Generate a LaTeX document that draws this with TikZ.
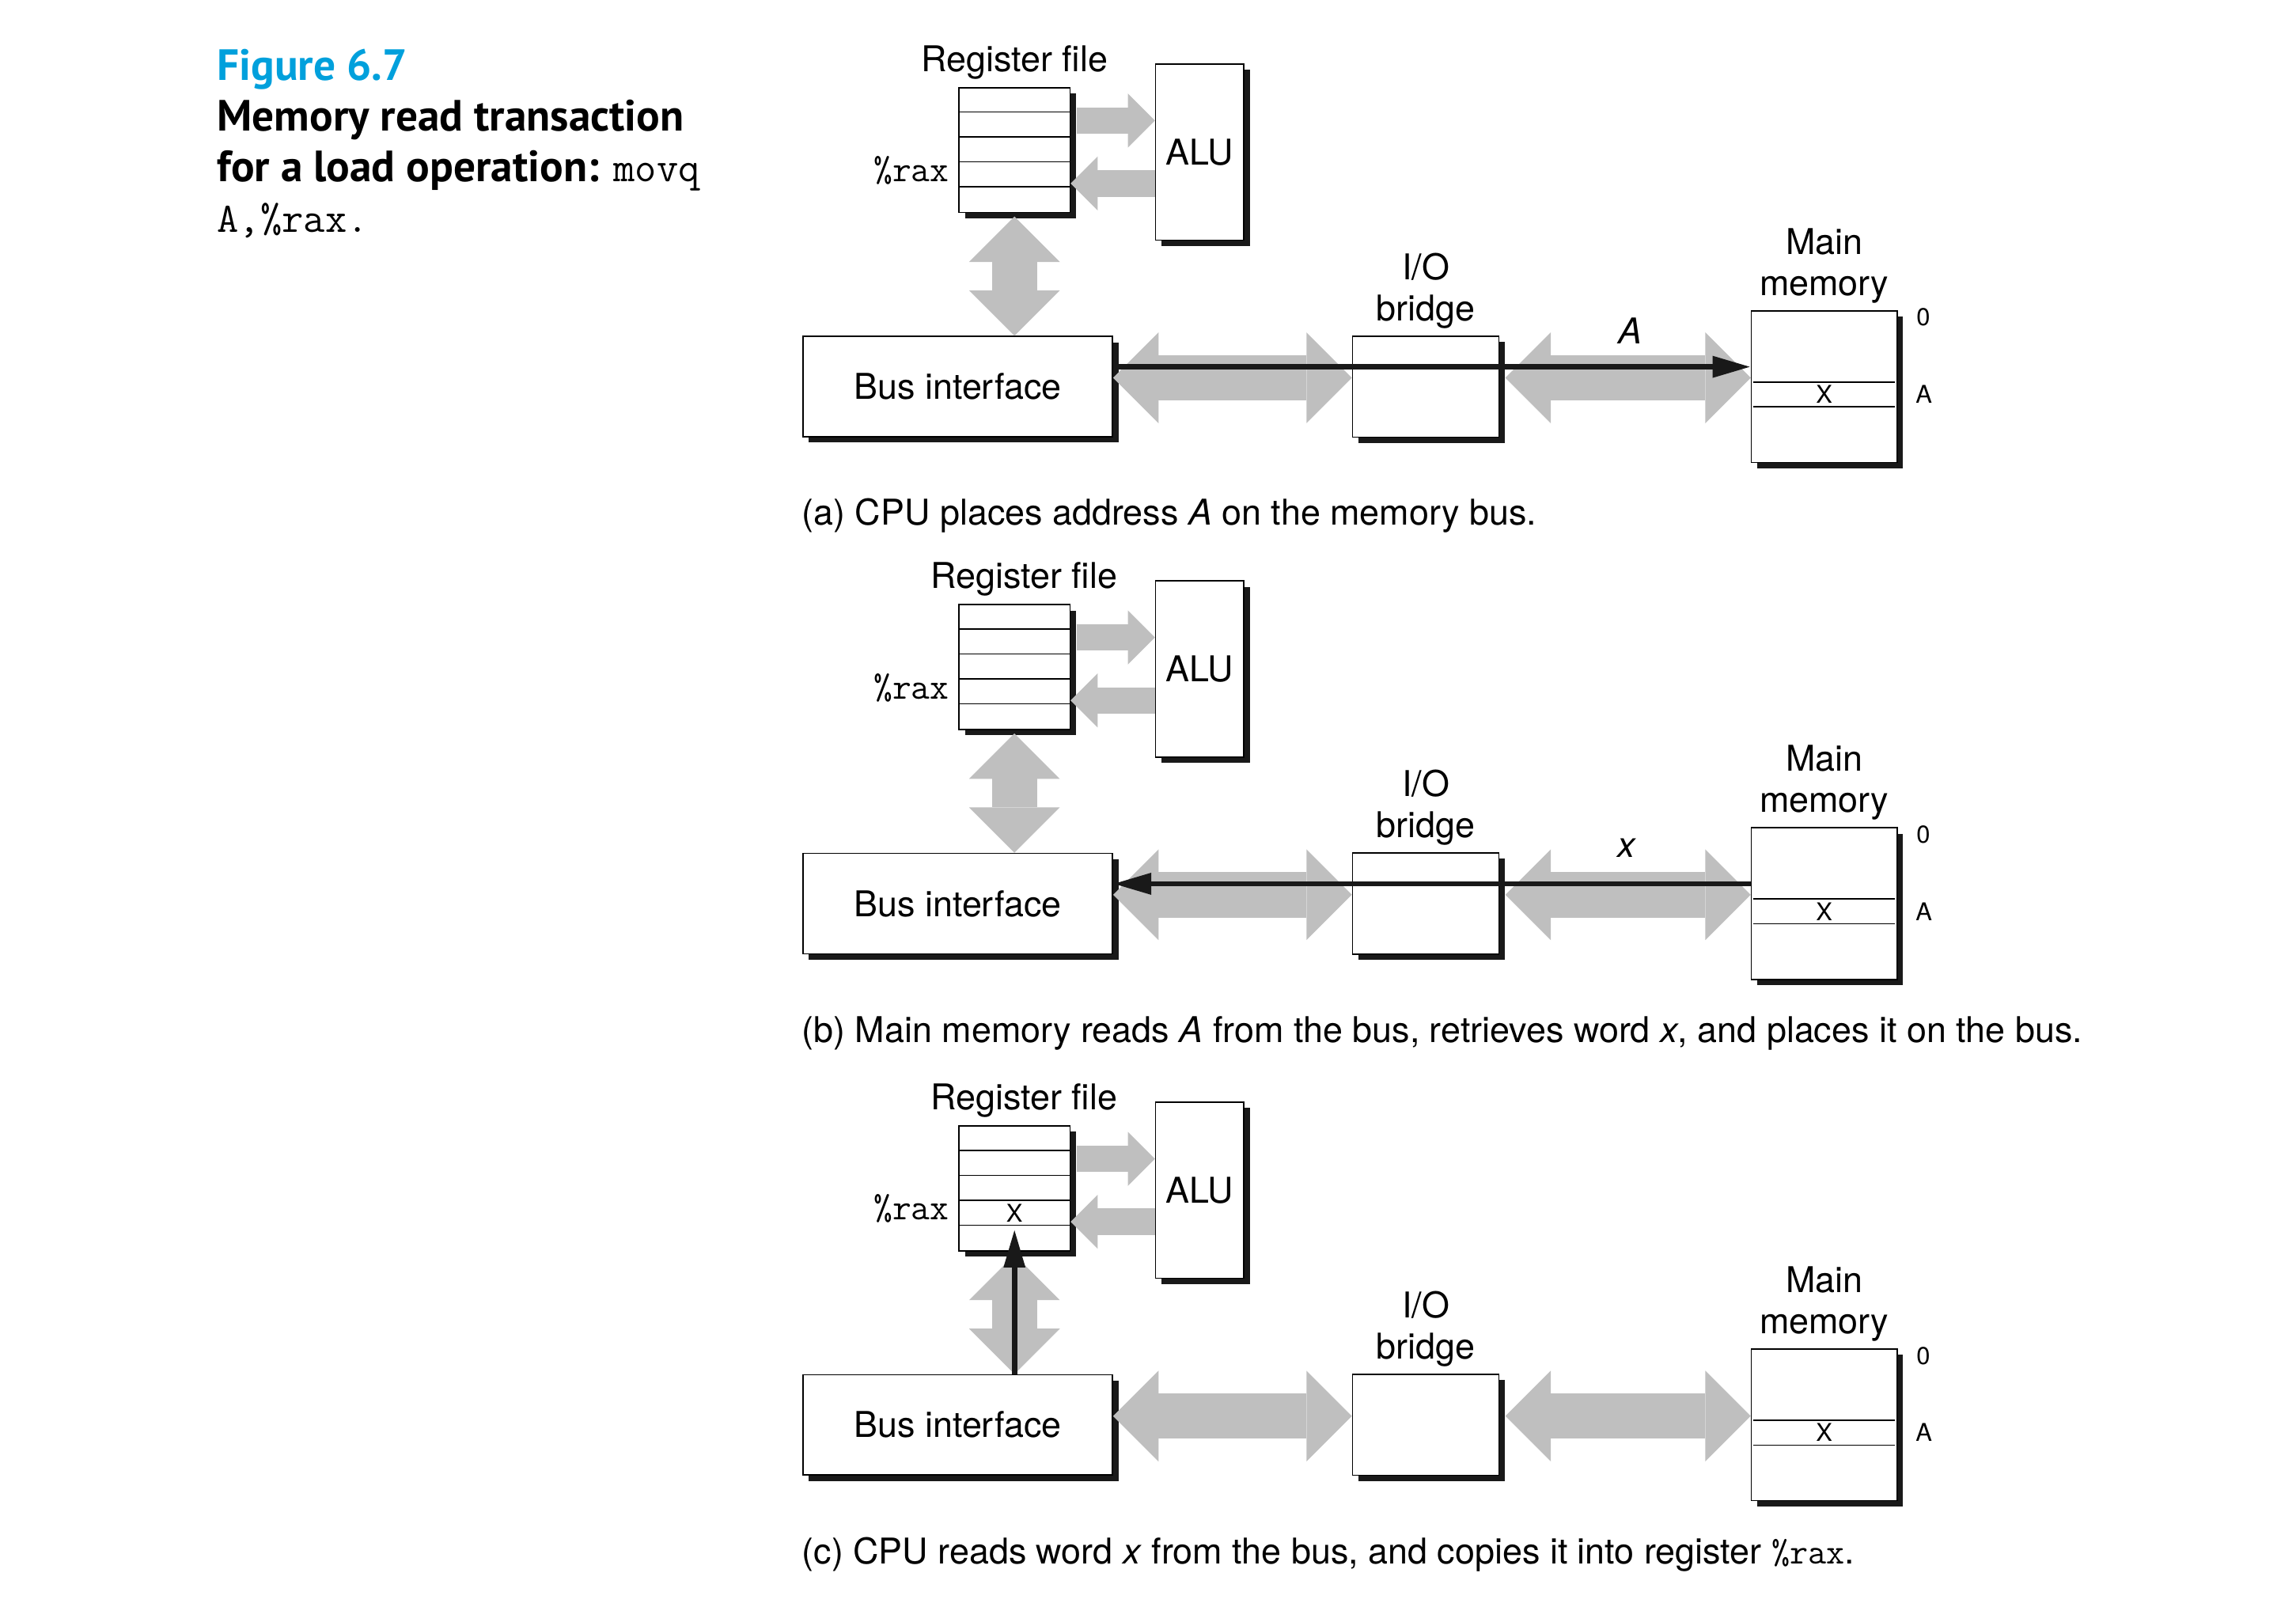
\documentclass[tikz,border=0pt]{standalone}
\usepackage{fontspec}
\setmainfont{TeX Gyre Heros}
\newfontfamily\titlefont{PT Sans}
\usetikzlibrary{positioning,arrows.meta,calc,shadows}
\definecolor{busgray}{RGB}{191,191,191}
\definecolor{figblue}{RGB}{0,160,220}

\begin{document}
\begin{tikzpicture}[auto, node distance=0.5cm]
% Definition of blocks:
\tikzset{%
  block/.style = {draw=black, line width=0.5pt, fill=white, rectangle, inner sep=0pt, font=\fontsize{13.8}{16}\selectfont,
                  drop shadow={shadow xshift=0.08cm, shadow yshift=-0.08cm, fill=black!90, opacity=1}},
  tag/.style   = {inner sep=0pt, align=center, font=\fontsize{13.8}{16}\selectfont},
  small/.style = {inner sep=0pt, font=\fontsize{9.5}{11}\selectfont},
  bus/.style   = {draw=busgray, line width=0.62cm, {Triangle[length=0.62cm, width=1.24cm, line width=0pt]}-{Triangle[length=0.62cm, width=1.24cm, line width=0pt]}}, % system bus
  link/.style  = {draw=busgray, line width=0.36cm, -{Triangle[length=0.37cm, width=0.74cm, line width=0pt]}}, % register <-> ALU
  data/.style  = {draw=black!90, line width=0.072cm, -{Triangle[length=0.52cm, width=0.28cm]}} % data flow
}
\useasboundingbox (0,0) rectangle (31.36,-21.94);

% Title
\node[anchor=north west, inner sep=0pt, align=left, font=\titlefont\bfseries\fontsize{17}{19.7}\selectfont] (Title) at (2.96,-0.66)
  {\textcolor{figblue}{Figure 6.7}\\Memory read transaction\\for a load operation: {\ttfamily\mdseries\fontsize{16.3}{19.7}\selectfont movq}\\{\ttfamily\mdseries\fontsize{16.3}{19.7}\selectfont A,\%rax.}};

% One panel per step
\foreach \p/\dy/\lx in {a/0/0, b/7.06/0.13, c/14.18/0.13} {
  \draw
    node [block, minimum width=4.23cm, minimum height=1.37cm] (Bus\p) at (13.08,{-5.28-\dy}) {Bus interface}
    node [block, minimum width=2cm, minimum height=1.38cm, right=3.26cm of Bus\p] (Bridge\p) {}
    node [block, minimum width=1.99cm, minimum height=2.07cm, right=3.43cm of Bridge\p] (Mem\p) {}
    node [block, minimum width=1.515cm, minimum height=1.705cm, above=1.675cm of Bus\p, xshift=0.776cm] (Reg\p) {}
    node [block, minimum width=1.206cm, minimum height=2.406cm, right=1.152cm of Reg\p, yshift=-0.026cm] (ALU\p) {ALU};

  \draw
    node [tag, above=0.1cm of Reg\p, xshift=\lx cm] (RegLbl\p) {Register file}
    node [tag, above=0.09cm of Bridge\p] (BridgeLbl\p) {I/O\\bridge}
    node [tag, above=0.09cm of Mem\p] (MemLbl\p) {Main\\memory}
    node [anchor=mid east, inner sep=0pt, font=\ttfamily\fontsize{14.2}{16}\selectfont] (Rax\p) at ([xshift=-0.12cm, yshift=-0.341cm]Reg\p.west) {\%rax};

  % register rows
  \foreach \k in {1,...,4}
    \draw[line width=0.5pt] ([yshift=-0.341cm*\k]Reg\p.north west) -- ([yshift=-0.341cm*\k]Reg\p.north east);

  % memory word at address A
  \draw[line width=0.5pt] ([xshift=0.036cm, yshift=-0.98cm]Mem\p.north west) -- ([xshift=-0.036cm, yshift=-0.98cm]Mem\p.north east);
  \draw[line width=0.5pt] ([xshift=0.036cm, yshift=-1.32cm]Mem\p.north west) -- ([xshift=-0.036cm, yshift=-1.32cm]Mem\p.north east);
  \draw
    node [small] (MemX\p) at ([yshift=-1.15cm]Mem\p.north) {X}
    node [small, anchor=west] (Zero\p) at ([xshift=0.25cm, yshift=-0.1cm]Mem\p.north east) {0}
    node [small, anchor=west] (Addr\p) at ($(MemX\p.center -| Mem\p.east)+(0.24,0)$) {A};

  % buses
  \draw[link] ($(ALU\p.west -| Reg\p.east)+(0.08,0.43)$) -- ($(ALU\p.west)+(0,0.43)$);
  \draw[link] ($(ALU\p.west)+(0,-0.43)$) -- ($(ALU\p.west -| Reg\p.east)+(0,-0.43)$);
  \draw[bus] ($(Reg\p.south)+(0,-0.046)$) -- (Reg\p.south |- Bus\p.north);
  \draw[bus] ($(Bus\p.east)+(0,0.12)$) -- ($(Bus\p.east -| Bridge\p.west)+(0,0.12)$);
  \draw[bus] ($(Bridge\p.east)+(0.08,0.12)$) -- ($(Bridge\p.east -| Mem\p.west)+(0,0.12)$);
}

% (a) address A goes out
\draw[data] ($(Busa.east)+(0,0.27)$) -- ($(Busa.east -| Mema.west)+(0,0.27)$);
\node[tag] (AddrA) at ($(Bridgea.east)!0.5!(Mema.west)+(0.07,0.76)$) {\textit{A}};

% (b) word x comes back
\draw[data] ($(Memb.west)+(0,0.27)$) -- ($(Memb.west -| Busb.east)+(0,0.27)$);
\node[tag] (WordX) at ($(Bridgeb.east)!0.5!(Memb.west)+(0.03,0.76)$) {\textit{x}};

% (c) x copied into %rax
\draw[data] (Regc.south |- Busc.north) -- ($(Regc.south)+(0,0.3)$);
\node[small] (RegX) at ($(Regc.center)+(0,-0.341)$) {X};

% captions
\node[tag, anchor=base west] (CapA) at ($(Busa.south west)+(-0.01,-1.2)$) {(a) CPU places address \textit{A} on the memory bus.};
\node[tag, anchor=base west] (CapB) at ($(Busb.south west)+(-0.01,-1.2)$) {(b) Main memory reads \textit{A} from the bus, retrieves word \textit{x}, and places it on the bus.};
\node[tag, anchor=base west] (CapC) at ($(Busc.south west)+(-0.01,-1.2)$) {(c) CPU reads word \textit{x} from the bus, and copies it into register {\ttfamily\%rax}.};

\end{tikzpicture}
\end{document}
